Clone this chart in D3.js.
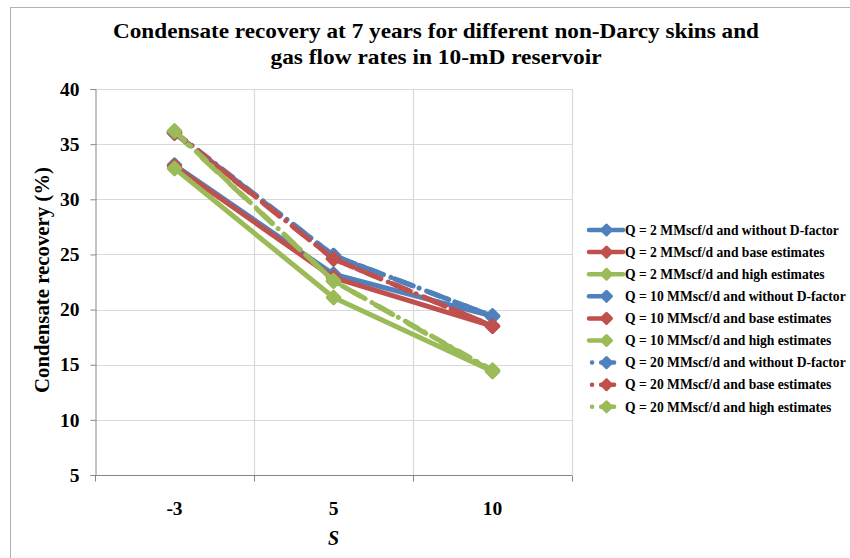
<!DOCTYPE html>
<html>
<head>
<meta charset="utf-8">
<script src="https://cdn.jsdelivr.net/npm/d3@7"></script>
<style>
  html, body { margin: 0; padding: 0; background: #ffffff; }
  svg { display: block; }
  text { font-family: "Liberation Serif", "Times New Roman", serif; font-weight: bold; fill: #000; }
</style>
</head>
<body>
<svg id="chart" width="850" height="558"></svg>
<script>
// Skin factor categories on the x axis
const categories = ["-3", "5", "10"];
const yTicks = [5, 10, 15, 20, 25, 30, 35, 40];

// Condensate recovery (%) at 7 years, one array per flow rate / D-factor case
const q2Without  = [33.1, 23.2, 19.4];
const q2Base     = [33.0, 22.9, 18.5];
const q2High     = [32.8, 21.1, 14.4];
const q10Without = [36.0, 24.9, 19.4];
const q10Base    = [36.0, 24.6, 18.5];
const q10High    = [36.1, 22.6, 14.4];
const q20Without = [36.1, 24.9, 19.4];
const q20Base    = [36.1, 24.6, 18.5];
const q20High    = [36.2, 22.6, 14.5];

const seriesNames = [
  "Q = 2 MMscf/d and without D-factor",
  "Q = 2 MMscf/d and base estimates",
  "Q = 2 MMscf/d and high estimates",
  "Q = 10 MMscf/d and without D-factor",
  "Q = 10 MMscf/d and base estimates",
  "Q = 10 MMscf/d and high estimates",
  "Q = 20 MMscf/d and without D-factor",
  "Q = 20 MMscf/d and base estimates",
  "Q = 20 MMscf/d and high estimates"
];
const seriesValues = [q2Without, q2Base, q2High, q10Without, q10Base, q10High, q20Without, q20Base, q20High];

const colors = ["#4F81BD", "#C0504D", "#9BBB59"];
// line style per flow rate: solid, long dash, dash-dot
const dashStyles = [null, "20,18", "14,8,0.1,8"];

const series = seriesNames.map((name, i) => ({
  name,
  values: seriesValues[i],
  color: colors[i % 3],
  dash: dashStyles[Math.floor(i / 3)],
  group: Math.floor(i / 3)
}));

const svg = d3.select("#chart");
const plot = { left: 95, right: 572, top: 89, bottom: 475 };

// outer chart frame (top and left edges visible)
svg.append("line").attr("x1", 10).attr("x2", 850).attr("y1", 7.5).attr("y2", 7.5)
  .attr("stroke", "#b3b3b3").attr("stroke-width", 1);
svg.append("line").attr("x1", 10.5).attr("x2", 10.5).attr("y1", 7).attr("y2", 558)
  .attr("stroke", "#b3b3b3").attr("stroke-width", 1);

const x = d3.scaleBand().domain(categories).range([plot.left, plot.right]).padding(0);
const y = d3.scaleLinear().domain([5, 40]).range([plot.bottom, plot.top]);
const cx = c => x(c) + x.bandwidth() / 2;

// horizontal gridlines
svg.append("g").selectAll("line").data(yTicks.filter(t => t > 5)).join("line")
  .attr("x1", plot.left).attr("x2", plot.right)
  .attr("y1", d => Math.round(y(d)) + 0.5).attr("y2", d => Math.round(y(d)) + 0.5)
  .attr("stroke", "#d9d9d9").attr("stroke-width", 1.2);

// vertical gridlines at category boundaries
const bounds = categories.map(c => x(c)).concat([plot.right]);
svg.append("g").selectAll("line").data(bounds.slice(1)).join("line")
  .attr("x1", d => Math.round(d) + 0.5).attr("x2", d => Math.round(d) + 0.5)
  .attr("y1", plot.top).attr("y2", plot.bottom)
  .attr("stroke", "#d9d9d9").attr("stroke-width", 1.2);

// y axis
const yAxis = d3.axisLeft(y).tickValues(yTicks).tickSize(5).tickPadding(11).tickFormat(d3.format("d"));
const gy = svg.append("g").attr("transform", `translate(${plot.left + 0.5},0)`).call(yAxis);
gy.attr("font-family", null).attr("font-size", null);
gy.select(".domain").attr("stroke", "#868686");
gy.selectAll(".tick line").attr("stroke", "#868686");
gy.selectAll(".tick text").style("font-size", "19.5px").style("font-family", "Liberation Serif").style("font-weight", "bold").attr("fill", "#000");

// x axis: line + boundary ticks + centred labels
const gx = svg.append("g").attr("transform", `translate(0,${plot.bottom + 0.5})`);
gx.append("line").attr("x1", plot.left).attr("x2", plot.right).attr("stroke", "#868686");
gx.selectAll("line.tk").data(bounds).join("line").attr("class", "tk")
  .attr("x1", d => Math.round(d) + 0.5).attr("x2", d => Math.round(d) + 0.5)
  .attr("y1", 0).attr("y2", 6).attr("stroke", "#868686");
gx.selectAll("text").data(categories).join("text")
  .attr("x", d => cx(d)).attr("y", 39).attr("text-anchor", "middle")
  .style("font-size", "19.5px").text(d => d);

// axis titles
svg.append("text").attr("x", cx("5")).attr("y", 545).attr("text-anchor", "middle")
  .style("font-size", "20px").style("font-style", "italic").text("S");
svg.append("text").attr("transform", "translate(49,280) rotate(-90)").attr("text-anchor", "middle")
  .style("font-size", "20px").attr("textLength", 226).attr("lengthAdjust", "spacingAndGlyphs")
  .text("Condensate recovery (%)");

// chart title
svg.append("text").attr("x", 436).attr("y", 38).attr("text-anchor", "middle")
  .style("font-size", "22px").attr("textLength", 646).attr("lengthAdjust", "spacingAndGlyphs")
  .text("Condensate recovery at 7 years for different non-Darcy skins and");
svg.append("text").attr("x", 436).attr("y", 64).attr("text-anchor", "middle")
  .style("font-size", "22px").attr("textLength", 331).attr("lengthAdjust", "spacingAndGlyphs")
  .text("gas flow rates in 10-mD reservoir");

// diamond marker path
const diamond = (px, py, r) => `M${px},${py - r}L${px + r},${py}L${px},${py + r}L${px - r},${py}Z`;

// series lines and markers, drawn in series order
const line = d3.line().x((d, i) => cx(categories[i])).y(d => y(d));
const gs = svg.append("g");
series.forEach(s => {
  const g = gs.append("g");
  g.append("path").attr("d", line(s.values)).attr("fill", "none")
    .attr("stroke", s.color).attr("stroke-width", 5)
    .attr("stroke-linecap", "round").attr("stroke-linejoin", "round")
    .attr("stroke-dasharray", s.dash);
  g.selectAll("path.m").data(s.values).join("path").attr("class", "m")
    .attr("d", (d, i) => diamond(cx(categories[i]), y(d), 6))
    .attr("fill", s.color).attr("stroke", s.color).attr("stroke-width", 3.5)
    .attr("stroke-linejoin", "round");
});

// legend
const legendDash = [null, "19,40", "0.1,9,13,40"];
const legendStart = [589, 589, 592];
const lg = svg.append("g");
series.forEach((s, i) => {
  const ly = 230 + i * 22.1;
  const row = lg.append("g");
  row.append("line").attr("x1", legendStart[s.group]).attr("x2", 623).attr("y1", ly).attr("y2", ly)
    .attr("stroke", s.color).attr("stroke-width", 4.5).attr("stroke-linecap", "round")
    .attr("stroke-dasharray", legendDash[s.group]);
  row.append("path").attr("d", diamond(606.5, ly, 5))
    .attr("fill", s.color).attr("stroke", s.color).attr("stroke-width", 3).attr("stroke-linejoin", "round");
  row.append("text").attr("x", 625).attr("y", ly).attr("dy", "0.35em")
    .style("font-size", "13.6px").text(s.name);
});
</script>
</body>
</html>
